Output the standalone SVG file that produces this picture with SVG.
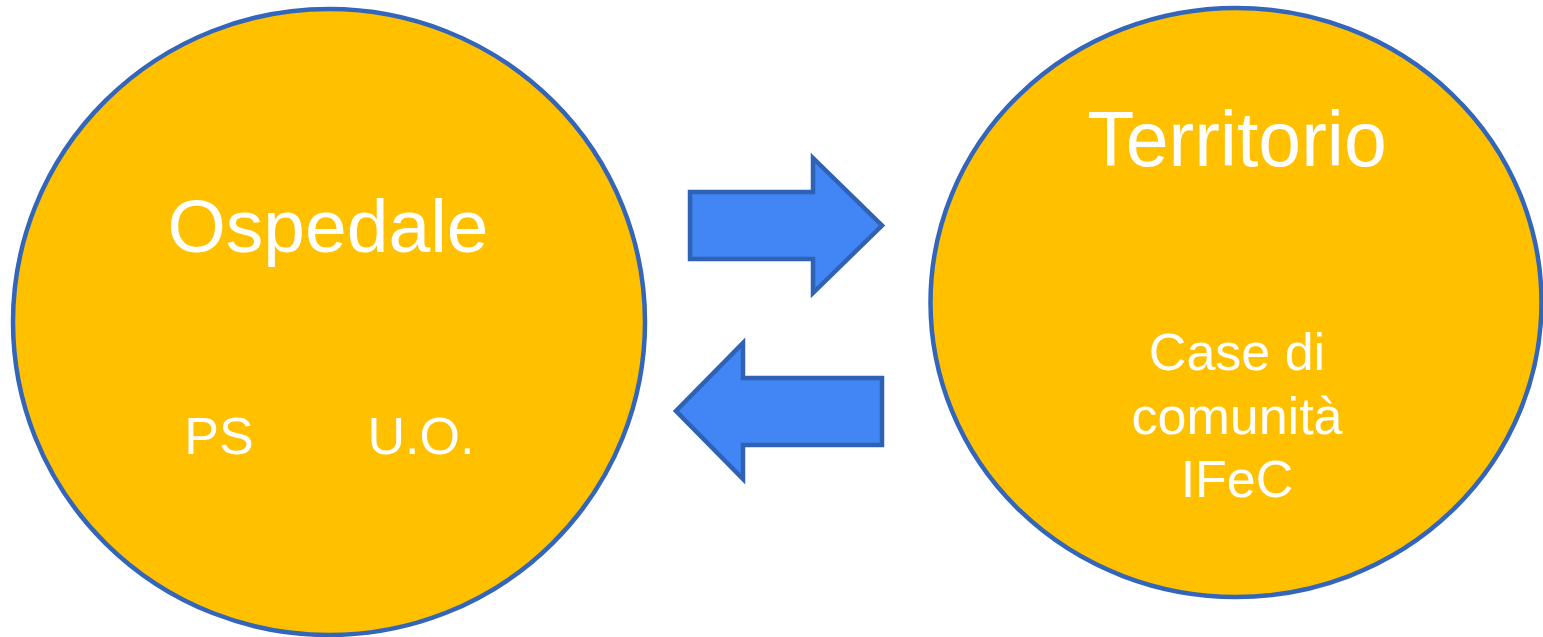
<svg xmlns="http://www.w3.org/2000/svg" width="1543" height="637" viewBox="0 0 1543 637">
<style>
.node{fill:#FFC000;stroke:#3366BB;stroke-width:4.5}
.arrow{fill:#4285F4;stroke:#2F62B5;stroke-width:4.5;stroke-linejoin:miter}
text{font-family:"Liberation Sans",Arial,sans-serif;fill:#FFFFFF;text-anchor:middle}
.big{font-size:75px}
.big2{font-size:77px}
.small{font-size:52px}
</style>
<rect width="1543" height="637" fill="#FFFFFF"/>
<g id="node-ospedale">
<ellipse class="node" cx="329" cy="322" rx="316" ry="313"/>
<text class="big" x="328" y="252">Ospedale</text>
<text class="small" x="219" y="454">PS</text>
<text class="small" x="421" y="454">U.O.</text>
</g>
<g id="node-territorio">
<ellipse class="node" cx="1236" cy="302.5" rx="305.5" ry="294.5"/>
<text class="big2" x="1237" y="166">Territorio</text>
<text class="small" x="1237" y="370">Case di</text>
<text class="small" x="1237" y="433.5">comunità</text>
<text class="small" x="1237" y="497">IFeC</text>
</g>
<g id="connectors">
<polygon class="arrow" points="690,192 813,192 813,158 882,225.5 813,293 813,259 690,259"/>
<polygon class="arrow" points="882,378 743,378 743,343 676,411 743,479 743,445 882,445"/>
</g>
</svg>
